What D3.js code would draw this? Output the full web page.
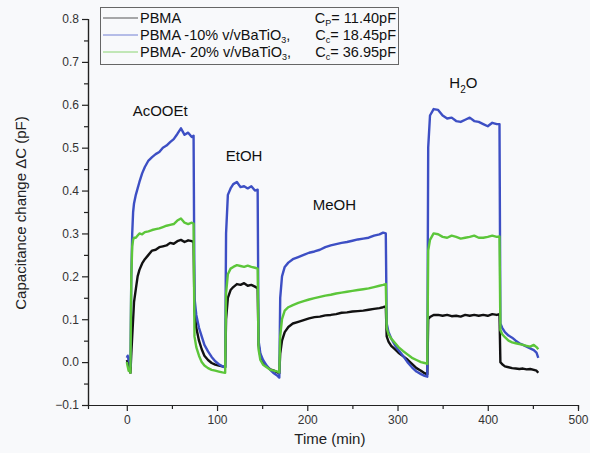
<!DOCTYPE html>
<html><head><meta charset="utf-8">
<script src="https://cdn.jsdelivr.net/npm/d3@7"></script>
<style>body{margin:0;background:#f8f9fb;}svg{display:block;}</style>
</head><body><svg id="c" width="590" height="453"></svg>
<script>
const time = [0,1,2,3,4,5,6,7,8,10,12,14,17,20,24,28,32,36,40,44,48,52,56,60,64,68,72,74,
75,77,80,83,86,90,94,98,102,106,109,110,112,115,118,122,126,130,134,138,142,145,
146,148,151,155,159,163,167,169,170,172,175,179,184,190,196,202,208,214,220,226,232,238,244,250,256,262,268,274,280,284,287,
288,290,293,297,301,306,311,316,321,326,330,333,334,336,340,345,350,355,360,365,370,375,380,385,390,395,400,405,410,413,
414,416,419,423,427,431,435,439,443,447,451,454,456];
const pbma = [0.005,0,-0.01,-0.02,-0.025,0.02,0.06,0.1,0.14,0.17,0.2,0.215,0.23,0.24,0.25,0.26,0.262,0.268,0.27,0.272,0.278,0.276,0.282,0.285,0.28,0.284,0.282,0.28,
0.12,0.08,0.05,0.03,0.015,0.005,-0.002,-0.006,-0.008,-0.01,-0.012,0.1,0.15,0.168,0.175,0.182,0.18,0.184,0.178,0.18,0.176,0.172,
0.04,0.015,0,-0.01,-0.017,-0.02,-0.024,-0.026,0.02,0.05,0.07,0.082,0.09,0.094,0.098,0.102,0.105,0.106,0.109,0.11,0.112,0.115,0.116,0.118,0.119,0.12,0.122,0.124,0.126,0.128,0.13,
0.06,0.048,0.038,0.03,0.022,0.014,0.006,-0.004,-0.014,-0.02,-0.026,-0.028,0.1,0.105,0.11,0.11,0.108,0.11,0.107,0.108,0.106,0.11,0.108,0.11,0.108,0.11,0.108,0.112,0.11,0.112,
0,-0.005,-0.01,-0.012,-0.014,-0.015,-0.016,-0.015,-0.017,-0.016,-0.018,-0.02,-0.025];
const pbma10 = [0.01,0.015,0.005,0,-0.01,0.2,0.3,0.35,0.37,0.39,0.405,0.42,0.44,0.455,0.47,0.478,0.485,0.49,0.5,0.505,0.513,0.52,0.532,0.545,0.53,0.535,0.525,0.528,
0.15,0.11,0.08,0.06,0.04,0.025,0.012,0.002,-0.005,-0.01,-0.012,0.3,0.39,0.405,0.415,0.42,0.408,0.41,0.405,0.41,0.4,0.402,
0.05,0.02,0.005,-0.008,-0.018,-0.026,-0.032,-0.036,0.15,0.2,0.222,0.232,0.24,0.245,0.25,0.255,0.258,0.262,0.268,0.272,0.275,0.278,0.28,0.283,0.286,0.288,0.29,0.295,0.298,0.302,0.3,
0.09,0.07,0.055,0.04,0.028,0.015,0,-0.012,-0.022,-0.028,-0.032,-0.034,0.5,0.575,0.59,0.588,0.575,0.568,0.57,0.562,0.56,0.565,0.57,0.562,0.56,0.555,0.55,0.558,0.555,0.555,
0.09,0.08,0.07,0.062,0.057,0.05,0.044,0.04,0.036,0.032,0.028,0.022,0.01];
const pbma20 = [0,-0.01,-0.02,-0.015,-0.025,0.2,0.27,0.285,0.29,0.29,0.295,0.3,0.298,0.303,0.305,0.308,0.31,0.312,0.315,0.318,0.32,0.322,0.33,0.335,0.325,0.322,0.325,0.323,
0.06,0.035,0.015,0,-0.008,-0.014,-0.018,-0.02,-0.022,-0.024,-0.025,0.16,0.205,0.218,0.222,0.226,0.224,0.222,0.225,0.222,0.22,0.218,
0.03,0.005,-0.006,-0.012,-0.018,-0.02,-0.022,-0.024,0.06,0.1,0.12,0.128,0.133,0.138,0.142,0.146,0.149,0.152,0.155,0.157,0.16,0.162,0.164,0.166,0.168,0.17,0.172,0.175,0.178,0.18,0.182,
0.08,0.065,0.055,0.045,0.035,0.026,0.018,0.01,0.005,0,-0.002,-0.004,0.26,0.285,0.3,0.298,0.292,0.29,0.295,0.292,0.288,0.29,0.292,0.295,0.29,0.29,0.292,0.295,0.292,0.293,
0.075,0.065,0.058,0.05,0.046,0.044,0.042,0.04,0.038,0.036,0.04,0.035,0.03];
const xTicks = [0,100,200,300,400,500];
const yTicks = [-0.1,0.0,0.1,0.2,0.3,0.4,0.5,0.6,0.7,0.8];
const seriesNames = ["PBMA","PBMA -10% v/vBaTiO","PBMA- 20% v/vBaTiO"];
const capLabels = ["11.40pF","18.45pF","36.95pF"];
const colors = ["#111111","#3d4fc4","#5cc63a"];
const solvents = [{n:"AcOOEt",t:37,v:0.575},{n:"EtOH",t:130,v:0.47},{n:"MeOH",t:230,v:0.355},{n:"H",t:373,v:0.64}];

const svg = d3.select("#c");
const x = d3.scaleLinear().domain([-43,500]).range([88,578]);
const y = d3.scaleLinear().domain([-0.1,0.8]).range([405,19]);
const font = "Liberation Sans, Arial, sans-serif";

const xAxis = d3.axisBottom(x).tickValues(xTicks).tickFormat(d3.format("d")).tickSize(6).tickPadding(4);
const gx = svg.append("g").attr("transform","translate(0,405)").call(xAxis);
gx.append("g").call(d3.axisBottom(x).tickValues([50,150,250,350,450]).tickSize(4).tickFormat(""));
const yAxis = d3.axisLeft(y).tickValues(yTicks).tickFormat(d3.format(".1f")).tickSize(6).tickPadding(3);
const gy = svg.append("g").attr("transform","translate(88,0)").call(yAxis);
gy.append("g").call(d3.axisLeft(y).tickValues(d3.range(-0.05,0.8,0.1)).tickSize(4).tickFormat(""));
svg.selectAll(".domain").attr("stroke","#222").attr("stroke-width",1.2);
svg.selectAll(".tick line").attr("stroke","#222").attr("stroke-width",1.2);
svg.selectAll(".tick text").attr("font-family",font).attr("font-size",12).attr("fill","#333");
gx.select(".domain").attr("d","M88,0.5H578");

const line = d3.line().x((d,i)=>x(time[i])).y(d=>y(d));
[pbma,pbma10,pbma20].forEach((s,k)=>{
  svg.append("path").datum(s).attr("d",line).attr("fill","none")
    .attr("stroke",colors[k]).attr("stroke-width",2.4).attr("stroke-linejoin","round");
});

solvents.forEach(s=>{
  const t = svg.append("text").attr("x",x(s.t)).attr("y",y(s.v)).attr("text-anchor","middle")
    .attr("font-family",font).attr("font-size",15).attr("fill","#111");
  if (s.n==="H"){ t.append("tspan").text("H"); t.append("tspan").attr("font-size",10).attr("dy",5).text("2"); t.append("tspan").attr("dy",-5).text("O"); }
  else t.text(s.n);
});

svg.append("text").attr("transform","translate(26,213) rotate(-90)").attr("text-anchor","middle")
  .attr("font-family",font).attr("font-size",15).attr("fill","#222").text("Capacitance change ΔC (pF)");
svg.append("text").attr("x",x(225)).attr("y",444).attr("text-anchor","middle")
  .attr("font-family",font).attr("font-size",15).attr("fill","#222").text("Time (min)");

// legend
const lg = svg.append("g");
lg.append("rect").attr("x",100.5).attr("y",7.5).attr("width",298).attr("height",57).attr("fill","#f8f9fb").attr("stroke","#666").attr("stroke-width",1);
const rowY = [23,40,57];
seriesNames.forEach((n,i)=>{
  lg.append("line").attr("x1",103).attr("x2",138).attr("y1",rowY[i]-5).attr("y2",rowY[i]-5).attr("stroke",colors[i]).attr("stroke-width",1).attr("opacity",0.7);
  const t = lg.append("text").attr("x",140).attr("y",rowY[i]).attr("font-family",font).attr("font-size",14.5).attr("fill","#111");
  t.append("tspan").text(n);
  if (i>0){ t.append("tspan").attr("font-size",9).attr("dy",3).text("3"); t.append("tspan").attr("dy",-3).text(","); }
  const c = lg.append("text").attr("x",396).attr("y",rowY[i]).attr("text-anchor","end").attr("font-family",font).attr("font-size",14.5).attr("fill","#111");
  c.append("tspan").text("C");
  c.append("tspan").attr("font-size",9).attr("dy",3).text(i===0?"P":"c");
  c.append("tspan").attr("dy",-3).text("= "+capLabels[i]);
});
</script></body></html>
